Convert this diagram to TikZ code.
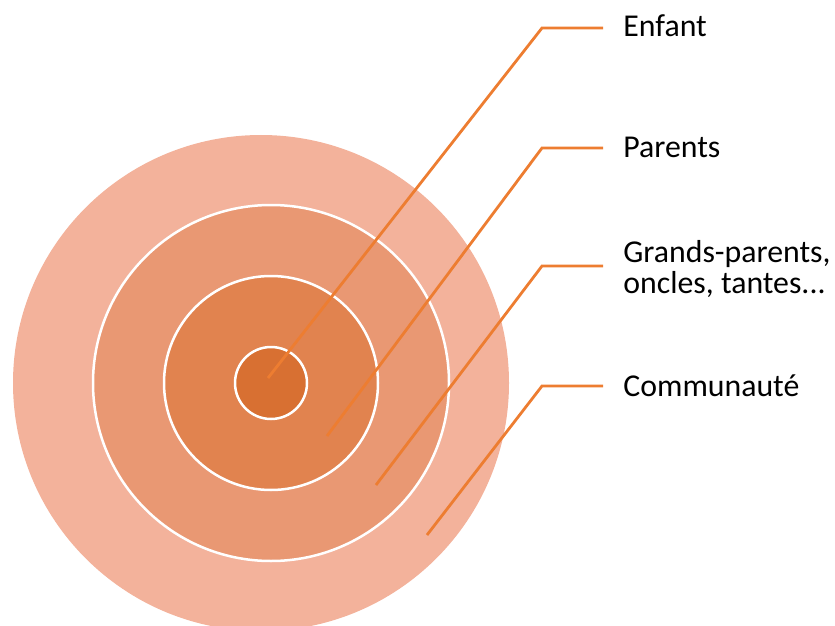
\documentclass[tikz,border=0pt]{standalone}
\usepackage{fontspec}
\setmainfont{Carlito}
\usepackage{xcolor}
\definecolor{ring1}{RGB}{243,178,155}
\definecolor{ring2}{RGB}{233,152,115}
\definecolor{ring3}{RGB}{225,131,79}
\definecolor{ring4}{RGB}{216,112,50}
\definecolor{leadc}{RGB}{237,125,49}
\begin{document}
\begin{tikzpicture}[x=0.5pt, y=-0.5pt,
    disc/.style={circle, inner sep=0pt, draw=white, line width=1.25pt},
    leader/.style={leadc, line width=1.4pt},
    lab/.style={anchor=base west, inner xsep=10pt, font=\fontsize{15.9}{15}\selectfont, align=left}]
    \useasboundingbox (0,0) rectangle (835,626);
    \node[disc, draw=none, fill=ring1, minimum size=248pt](comm) at (261,383) {};
    \node[disc, fill=ring2, minimum size=178pt](fam) at (271,383) {};
    \node[disc, fill=ring3, minimum size=107pt](par) at (271,383) {};
    \node[disc, fill=ring4, minimum size=36pt](enf) at (271,383) {};
    \coordinate(s1) at (268, 378);
    \coordinate(s2) at (327, 436);
    \coordinate(s3) at (376, 485);
    \coordinate(s4) at (427, 535);
    \coordinate(b1) at (542, 28);
    \coordinate(b2) at (542, 148);
    \coordinate(b3) at (542, 266);
    \coordinate(b4) at (542, 386);
    \node[lab](l1) at (603, 37) {Enfant};
    \node[lab](l2) at (603, 157) {Parents};
    \node[lab](l3) at (603, 293) {Grands-parents,\\[0.5pt]oncles, tantes...};
    \node[lab](l4) at (603, 396) {Communauté};
    \draw[leader] (s1)--(b1)--(b1 -| l1.west);
    \draw[leader] (s2)--(b2)--(b2 -| l2.west);
    \draw[leader] (s3)--(b3)--(b3 -| l3.west);
    \draw[leader] (s4)--(b4)--(b4 -| l4.west);
  \end{tikzpicture}
\end{document}
